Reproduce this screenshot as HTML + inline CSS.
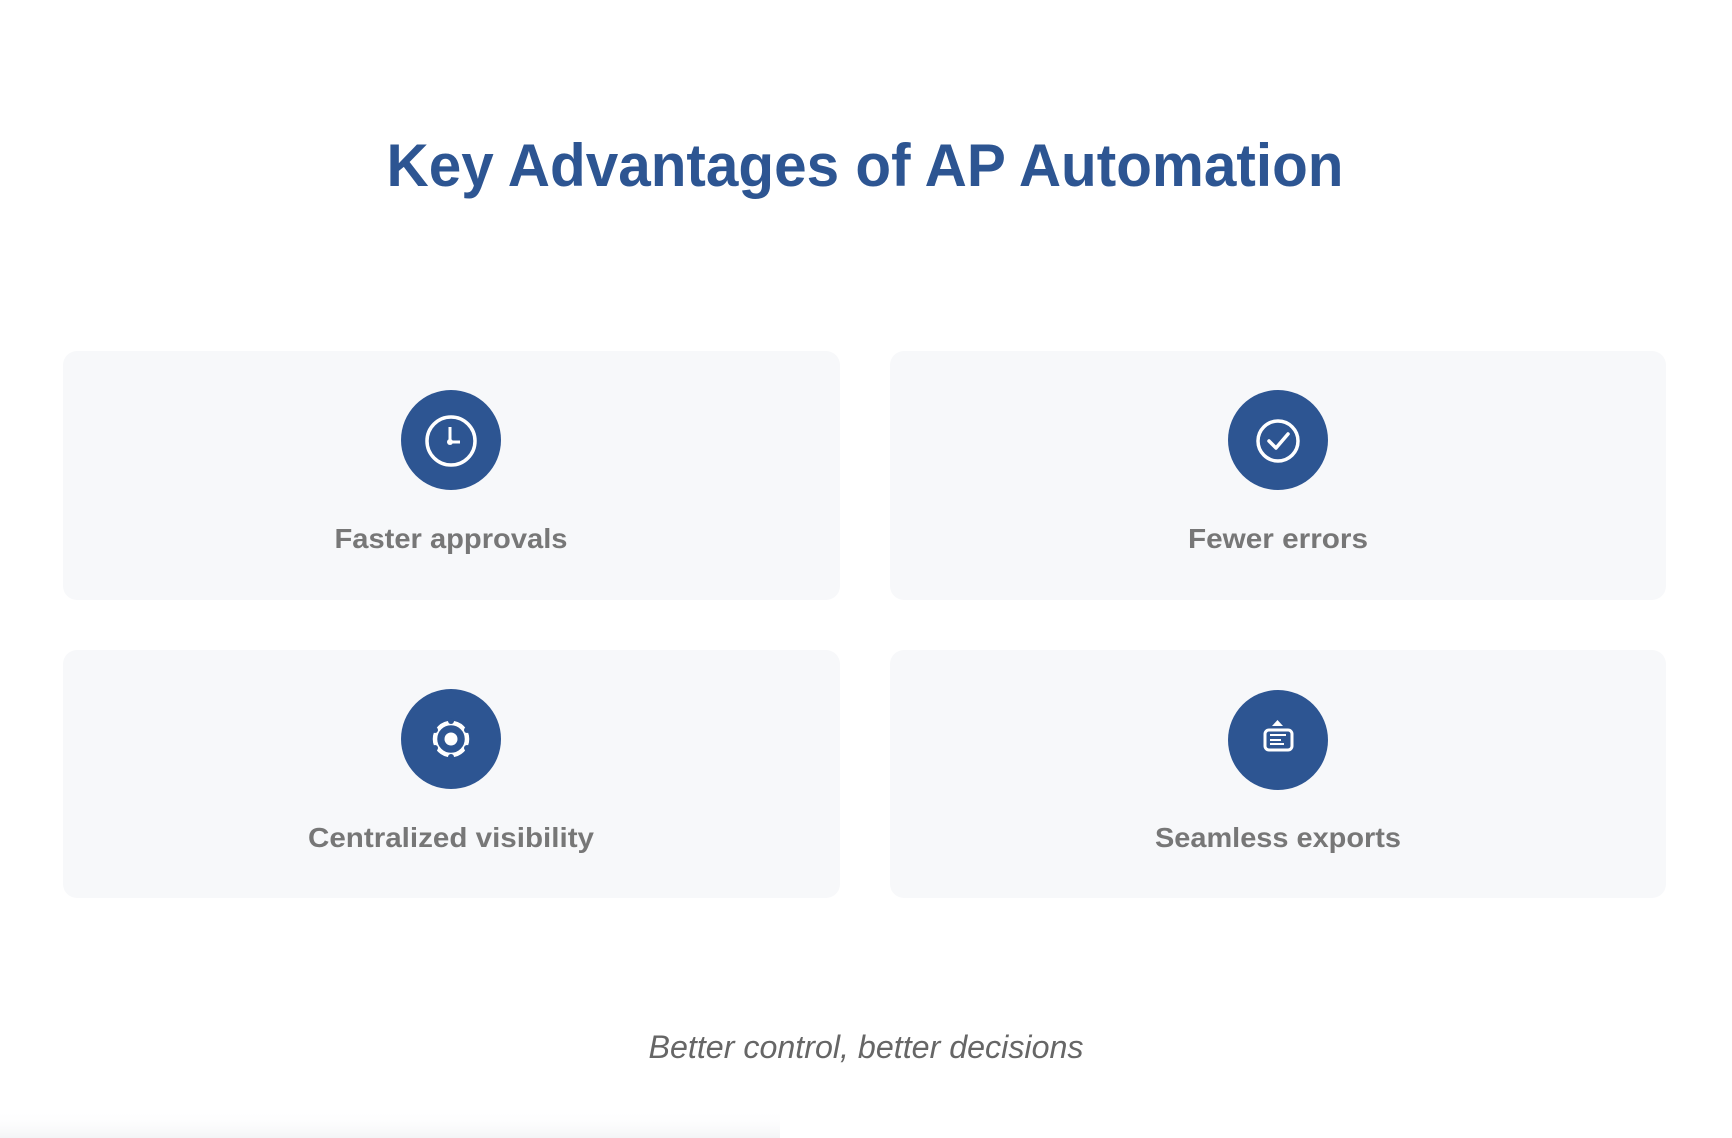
<!DOCTYPE html>
<html><head><meta charset="utf-8"><style>
html,body{margin:0;padding:0;background:#fff;}
svg{display:block;}
</style></head><body>
<svg width="1732" height="1138" viewBox="0 0 1732 1138" xmlns="http://www.w3.org/2000/svg">
<defs>
<linearGradient id="sh" x1="0" y1="0" x2="0" y2="1"><stop offset="0" stop-color="#fff" stop-opacity="0"/><stop offset="1" stop-color="#f3f4f6"/></linearGradient>
</defs>
<rect width="1732" height="1138" fill="#fff"/>
<rect x="0" y="1110" width="780" height="28" fill="url(#sh)"/>
<text x="865" y="186" text-anchor="middle" font-family="Liberation Sans, sans-serif" font-weight="bold" font-size="60" fill="#2d5592" textLength="957" lengthAdjust="spacingAndGlyphs">Key Advantages of AP Automation</text>

<rect x="63" y="351" width="777" height="249" rx="14" fill="#f7f8fa"/>
<rect x="890" y="351" width="776" height="249" rx="14" fill="#f7f8fa"/>
<rect x="63" y="650" width="777" height="248" rx="14" fill="#f7f8fa"/>
<rect x="890" y="650" width="776" height="248" rx="14" fill="#f7f8fa"/>

<circle cx="451" cy="440" r="50" fill="#2d5592"/>
<circle cx="1278" cy="440" r="50" fill="#2d5592"/>
<circle cx="451" cy="739" r="50" fill="#2d5592"/>
<circle cx="1278" cy="740" r="50" fill="#2d5592"/>

<!-- clock -->
<circle cx="451" cy="441" r="24" fill="none" stroke="#fff" stroke-width="3.5"/>
<path d="M450 427 V442 H460" fill="none" stroke="#fff" stroke-width="3"/>
<circle cx="450" cy="442" r="3" fill="#fff"/>
<!-- check -->
<circle cx="1278" cy="441" r="20" fill="none" stroke="#fff" stroke-width="3.5"/>
<path d="M1269 441 L1276 448 L1288 434" fill="none" stroke="#fff" stroke-width="3.5" stroke-linecap="round" stroke-linejoin="round"/>
<!-- gear -->
<circle cx="451" cy="739" r="16" fill="none" stroke="#fff" stroke-width="4.5"/>
<circle cx="451" cy="739" r="6.5" fill="#fff"/>
<circle cx="451" cy="721" r="3" fill="#2d5592"/><circle cx="451" cy="757" r="3" fill="#2d5592"/>
<circle cx="435" cy="730" r="3" fill="#2d5592"/><circle cx="467" cy="730" r="3" fill="#2d5592"/>
<circle cx="435" cy="748" r="3" fill="#2d5592"/><circle cx="467" cy="748" r="3" fill="#2d5592"/>
<!-- export -->
<rect x="1265" y="730" width="27" height="20" rx="4" fill="none" stroke="#fff" stroke-width="3"/>
<path d="M1272 726 L1277.5 720 L1283 726 Z" fill="#fff"/>
<path d="M1270 735 H1286 M1270 740 H1281 M1270 744 H1284" stroke="#fff" stroke-width="2"/>

<g font-family="Liberation Sans, sans-serif" font-weight="bold" font-size="28" fill="#777" text-anchor="middle">
<text x="451" y="548" textLength="233" lengthAdjust="spacingAndGlyphs">Faster approvals</text>
<text x="1278" y="548" textLength="180" lengthAdjust="spacingAndGlyphs">Fewer errors</text>
<text x="451" y="847" textLength="286" lengthAdjust="spacingAndGlyphs">Centralized visibility</text>
<text x="1278" y="847" textLength="246" lengthAdjust="spacingAndGlyphs">Seamless exports</text>
</g>
<text x="866" y="1058" text-anchor="middle" font-family="Liberation Sans, sans-serif" font-style="italic" font-size="32" fill="#666" textLength="435" lengthAdjust="spacingAndGlyphs">Better control, better decisions</text>
</svg>
</body></html>
